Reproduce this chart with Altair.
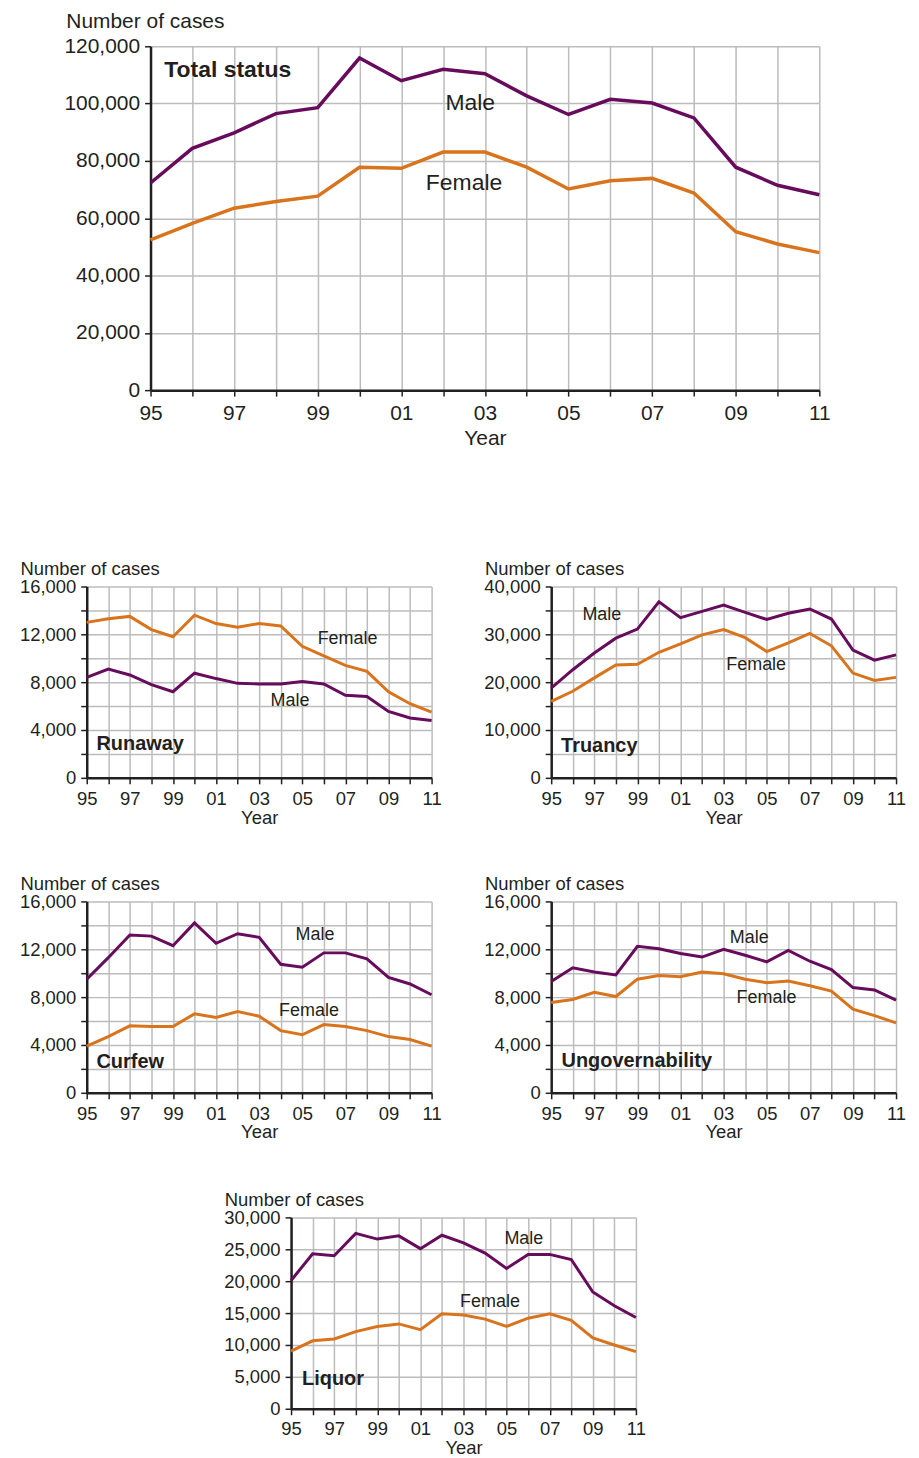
import altair as alt
import pandas as pd

years = list(range(1995, 2012))

total_male = [72300, 84400, 89800, 96500, 98600, 115900, 108000, 112000, 110400, 102700, 96200, 101500, 100200, 95000, 77800, 71500, 68200]
total_female = [52400, 58200, 63500, 65800, 67700, 77800, 77400, 83100, 83100, 77800, 70200, 73100, 73900, 68800, 55300, 51000, 48000]

runaway_male = [8400, 9100, 8600, 7800, 7200, 8750, 8300, 7900, 7850, 7850, 8050, 7850, 6900, 6800, 5550, 5000, 4800]
runaway_female = [13000, 13300, 13500, 12400, 11800, 13600, 12900, 12600, 12900, 12700, 11000, 10200, 9400, 8900, 7200, 6200, 5500]

truancy_male = [18750, 22600, 26100, 29200, 31100, 36800, 33500, 34800, 36100, 34600, 33100, 34400, 35300, 33200, 26700, 24600, 25700]
truancy_female = [16000, 18100, 20900, 23600, 23750, 26250, 28000, 29900, 31000, 29300, 26400, 28200, 30200, 27600, 21900, 20350, 21000]

curfew_male = [9500, 11300, 13200, 13100, 12300, 14200, 12500, 13300, 13000, 10750, 10500, 11700, 11700, 11200, 9650, 9100, 8200]
curfew_female = [3900, 4700, 5600, 5550, 5550, 6600, 6300, 6800, 6400, 5200, 4850, 5700, 5550, 5200, 4700, 4450, 3900]

ungov_male = [9300, 10450, 10100, 9850, 12250, 12050, 11650, 11350, 12000, 11500, 10950, 11900, 11000, 10300, 8800, 8600, 7750]
ungov_female = [7550, 7800, 8400, 8050, 9500, 9800, 9700, 10100, 9950, 9500, 9200, 9350, 8950, 8500, 7000, 6450, 5850]

liquor_male = [20100, 24300, 24000, 27500, 26600, 27100, 25100, 27200, 26000, 24400, 22000, 24200, 24200, 23400, 18300, 16150, 14300]
liquor_female = [9050, 10650, 10950, 12100, 12900, 13300, 12400, 14900, 14700, 14050, 12900, 14200, 14900, 13850, 11100, 10000, 8950]

PURPLE = "#670b5c"
ORANGE = "#d9741d"
INK = "#231f20"
GRID = "#bcbcbc"
FONT = "Liberation Sans"


def panel(name, male, female, ymax, grid_step, label_step, width, height,
          fs, note_fs, name_fs, lw, title_dx, title_dy, label_pad, title_pad, notes, name_pos):
    df = pd.DataFrame({
        "Year": years * 2,
        "Cases": male + female,
        "Sex": ["Male"] * len(years) + ["Female"] * len(years),
    })
    xs = alt.Scale(domain=[1995, 2011], nice=False, zero=False)
    ys = alt.Scale(domain=[0, ymax], nice=False)
    x_axis = alt.Axis(
        values=years,
        labelExpr="datum.value % 2 == 1 ? format(datum.value % 100, '02d') : ''",
        title="Year", titleFontWeight="normal", titleFontSize=fs, titleFont=FONT,
        titleColor=INK, titlePadding=title_pad,
        labelFontSize=fs, labelFont=FONT, labelColor=INK, labelPadding=label_pad,
        labelFlush=False, labelOverlap=False,
        grid=True, gridColor=GRID, gridWidth=1.5,
        domainColor=INK, domainWidth=2.5, tickColor=INK, tickWidth=1.5, tickSize=6,
    )
    y_axis = alt.Axis(
        values=list(range(0, ymax + 1, grid_step)),
        labelExpr=f"datum.value % {label_step} == 0 ? format(datum.value, ',') : ''",
        title="Number of cases", titleAngle=0, titleAlign="left",
        titleBaseline="alphabetic", titleX=title_dx, titleY=title_dy,
        titleFontWeight="normal", titleFontSize=fs, titleFont=FONT, titleColor=INK,
        labelFontSize=fs, labelFont=FONT, labelColor=INK, labelPadding=5,
        labelFlush=False, labelOverlap=False,
        grid=True, gridColor=GRID, gridWidth=1.5,
        domainColor=INK, domainWidth=2.5, tickColor=INK, tickWidth=1.5, tickSize=6,
    )
    x_enc = alt.X("Year:Q", scale=xs, axis=x_axis)
    y_enc = alt.Y("Cases:Q", scale=ys, axis=y_axis)

    lines = alt.Chart(df).mark_line(strokeWidth=lw, strokeJoin="miter").encode(
        x=x_enc, y=y_enc,
        color=alt.Color("Sex:N", scale=alt.Scale(domain=["Male", "Female"], range=[PURPLE, ORANGE]), legend=None),
    )
    notes_df = pd.DataFrame({
        "label": [n[0] for n in notes],
        "Year": [n[1] for n in notes],
        "Cases": [n[2] for n in notes],
    })
    txt = alt.Chart(notes_df).mark_text(
        fontSize=note_fs, font=FONT, align="center", baseline="alphabetic", color=INK
    ).encode(x=x_enc, y=y_enc, text="label:N")
    name_df = pd.DataFrame({"label": [name], "Year": [name_pos[0]], "Cases": [name_pos[1]]})
    bold = alt.Chart(name_df).mark_text(
        fontSize=name_fs, font=FONT, fontWeight="bold", align="left", baseline="alphabetic", color=INK
    ).encode(x=x_enc, y=y_enc, text="label:N")
    return alt.layer(lines, txt, bold).properties(width=width, height=height)


def spacer(w, h=1):
    d = pd.DataFrame({"v": [0.5]})
    return alt.Chart(d).mark_point(opacity=0, size=1).encode(
        x=alt.X("v:Q", axis=None, scale=alt.Scale(domain=[0, 1])),
        y=alt.Y("v:Q", axis=None, scale=alt.Scale(domain=[0, 1])),
    ).properties(width=w, height=h)


SW, SH = 346, 192
SFS = 18.5
LP, TP = 5.3, 0.5

top = panel("Total status", total_male, total_female, 120000, 20000, 20000, 671, 345,
            21, 23, 23, 3.5, -85, -19, 6.75, 3.7,
            [("Male", 2002.65, 97700), ("Female", 2002.5, 69700)], (1995.33, 109400))

runaway = panel("Runaway", runaway_male, runaway_female, 16000, 2000, 4000, SW, SH,
                SFS, 18, 20, 3, -67, -12, LP, TP,
                [("Female", 2007.1, 11190), ("Male", 2004.43, 5970)], (1995.45, 2300))
truancy = panel("Truancy", truancy_male, truancy_female, 40000, 5000, 10000, SW, SH,
                SFS, 18, 20, 3, -67, -12, LP, TP,
                [("Male", 1997.35, 33000), ("Female", 2004.51, 22600)], (1995.46, 5400))
curfew = panel("Curfew", curfew_male, curfew_female, 16000, 2000, 4000, SW, SH,
               SFS, 18, 20, 3, -67, -12, LP, TP,
               [("Male", 2005.59, 12780), ("Female", 2005.31, 6440)], (1995.45, 2080))
ungov = panel("Ungovernability", ungov_male, ungov_female, 16000, 2000, 4000, SW, SH,
              SFS, 18, 20, 3, -67, -12, LP, TP,
              [("Male", 2004.19, 12560), ("Female", 2004.99, 7470)], (1995.48, 2140))
liquor = panel("Liquor", liquor_male, liquor_female, 30000, 5000, 5000, SW, SH,
               SFS, 18, 20, 3, -67, -12, LP, TP,
               [("Male", 2005.8, 25900), ("Female", 2004.23, 16000)], (1995.51, 3650))

row1 = alt.hconcat(spacer(46), top, spacing=0)
row2 = alt.hconcat(spacer(1), alt.hconcat(runaway, truancy, spacing=42), spacing=0)
row3 = alt.hconcat(spacer(1), alt.hconcat(curfew, ungov, spacing=42), spacing=0)
row4 = alt.hconcat(spacer(206), liquor, spacing=0)

chart = alt.vconcat(
    alt.vconcat(row1, row2, spacing=111),
    alt.vconcat(row3, row4, spacing=49),
    spacing=48,
).properties(
    padding={"left": 10, "top": 0, "right": 5, "bottom": 0}
).configure(font=FONT).configure_view(strokeWidth=0, stroke=None)

chart.save("out.html", embed_options={"renderer": "svg", "actions": False})
